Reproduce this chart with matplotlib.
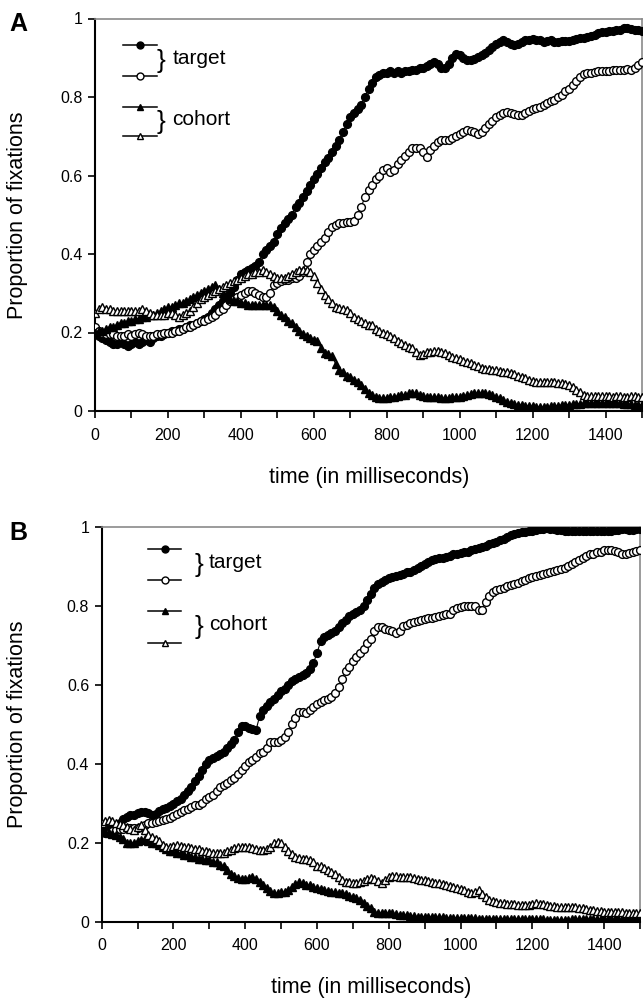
import numpy as np
import matplotlib
matplotlib.use("Agg")
import matplotlib.pyplot as plt
from matplotlib.ticker import MultipleLocator

plt.rcParams['font.family'] = ['Liberation Sans', 'DejaVu Sans']

time_ms = list(range(0, 1501, 10))

# ---------------- Panel A ----------------
A_target_filled = [
    0.20, 0.19, 0.185, 0.18, 0.175, 0.17, 0.17, 0.175, 0.17, 0.165,
    0.17, 0.175, 0.17, 0.175, 0.18, 0.175, 0.185, 0.19, 0.19, 0.195,
    0.20, 0.205, 0.205, 0.21, 0.21, 0.215, 0.22, 0.22, 0.225, 0.23,
    0.235, 0.24, 0.25, 0.26, 0.27, 0.28, 0.29, 0.30, 0.315, 0.335,
    0.35, 0.355, 0.36, 0.365, 0.37, 0.38, 0.40, 0.41, 0.42, 0.43,
    0.45, 0.465, 0.48, 0.49, 0.50, 0.52, 0.53, 0.545, 0.56, 0.575,
    0.59, 0.605, 0.62, 0.635, 0.645, 0.66, 0.675, 0.69, 0.71, 0.73,
    0.75, 0.76, 0.77, 0.78, 0.80, 0.82, 0.835, 0.85, 0.855, 0.86,
    0.86, 0.865, 0.86, 0.865, 0.86, 0.865, 0.865, 0.87, 0.87, 0.875,
    0.875, 0.88, 0.885, 0.89, 0.885, 0.875, 0.873, 0.885, 0.90, 0.91,
    0.908, 0.90, 0.893, 0.893, 0.897, 0.903, 0.908, 0.913, 0.92, 0.928,
    0.935, 0.94, 0.945, 0.94, 0.935, 0.932, 0.935, 0.94, 0.945, 0.945,
    0.947, 0.945, 0.945, 0.94, 0.942, 0.945, 0.94, 0.94, 0.942, 0.943,
    0.943, 0.945, 0.948, 0.95, 0.95, 0.952, 0.955, 0.958, 0.962, 0.966,
    0.966, 0.967, 0.968, 0.97, 0.97, 0.975, 0.975, 0.972, 0.97, 0.97, 0.968,
]
A_target_open = [
    0.215, 0.205, 0.20, 0.195, 0.195, 0.195, 0.19, 0.19, 0.19, 0.195,
    0.19, 0.195, 0.20, 0.195, 0.19, 0.19, 0.19, 0.195, 0.195, 0.20,
    0.20, 0.20, 0.205, 0.205, 0.21, 0.215, 0.215, 0.22, 0.225, 0.23,
    0.23, 0.235, 0.24, 0.245, 0.255, 0.26, 0.27, 0.28, 0.285, 0.29,
    0.295, 0.30, 0.305, 0.305, 0.30, 0.295, 0.29, 0.29, 0.30, 0.32,
    0.325, 0.33, 0.335, 0.335, 0.34, 0.34, 0.345, 0.355, 0.38, 0.40,
    0.41, 0.42, 0.43, 0.44, 0.455, 0.47, 0.475, 0.478, 0.48, 0.482,
    0.482, 0.485, 0.50, 0.52, 0.545, 0.563, 0.575, 0.59, 0.60, 0.615,
    0.618, 0.61, 0.615, 0.63, 0.64, 0.65, 0.66, 0.67, 0.67, 0.67,
    0.66, 0.648, 0.665, 0.675, 0.685, 0.69, 0.69, 0.69, 0.695, 0.70,
    0.705, 0.71, 0.716, 0.714, 0.71, 0.707, 0.712, 0.722, 0.73, 0.74,
    0.75, 0.755, 0.76, 0.763, 0.76, 0.757, 0.755, 0.755, 0.76, 0.765,
    0.77, 0.773, 0.775, 0.78, 0.785, 0.79, 0.792, 0.80, 0.805, 0.815,
    0.82, 0.83, 0.84, 0.85, 0.858, 0.86, 0.862, 0.864, 0.865, 0.865,
    0.865, 0.866, 0.868, 0.869, 0.87, 0.87, 0.872, 0.87, 0.875, 0.882, 0.89,
]
A_cohort_filled = [
    0.20, 0.205, 0.205, 0.21, 0.215, 0.215, 0.22, 0.225, 0.225, 0.23,
    0.23, 0.235, 0.235, 0.24, 0.24, 0.245, 0.245, 0.25, 0.255, 0.26,
    0.265, 0.265, 0.27, 0.275, 0.275, 0.28, 0.285, 0.29, 0.295, 0.30,
    0.305, 0.31, 0.315, 0.32, 0.31, 0.30, 0.29, 0.285, 0.28, 0.28,
    0.275, 0.275, 0.27, 0.27, 0.27, 0.27, 0.27, 0.27, 0.27, 0.265,
    0.255, 0.245, 0.24, 0.23, 0.225, 0.215, 0.205, 0.195, 0.19, 0.185,
    0.18, 0.178, 0.16, 0.147, 0.145, 0.14, 0.12, 0.105, 0.10, 0.09,
    0.087, 0.08, 0.075, 0.065, 0.055, 0.046, 0.04, 0.035, 0.033, 0.033,
    0.034, 0.035, 0.036, 0.038, 0.04, 0.042, 0.045, 0.045, 0.045, 0.042,
    0.038, 0.036, 0.035, 0.035, 0.035, 0.033, 0.033, 0.034, 0.036, 0.036,
    0.036, 0.038, 0.04, 0.043, 0.045, 0.046, 0.046, 0.045, 0.043, 0.04,
    0.036, 0.032, 0.028, 0.024, 0.021, 0.018, 0.016, 0.015, 0.014, 0.013,
    0.012, 0.011, 0.011, 0.01, 0.011, 0.012, 0.013, 0.014, 0.015, 0.015,
    0.016, 0.017, 0.018, 0.019, 0.02, 0.02, 0.02, 0.02, 0.02, 0.02,
    0.02, 0.02, 0.02, 0.02, 0.02, 0.019, 0.018, 0.017, 0.016, 0.016, 0.015,
]
A_cohort_open = [
    0.25, 0.26, 0.265, 0.26, 0.26, 0.255, 0.255, 0.255, 0.255, 0.255,
    0.255, 0.255, 0.255, 0.26, 0.255, 0.25, 0.245, 0.245, 0.245, 0.245,
    0.25, 0.25, 0.245, 0.24, 0.245, 0.25, 0.255, 0.265, 0.275, 0.285,
    0.29, 0.295, 0.30, 0.305, 0.31, 0.315, 0.32, 0.325, 0.33, 0.335,
    0.34, 0.345, 0.35, 0.35, 0.355, 0.355, 0.36, 0.355, 0.35, 0.345,
    0.34, 0.34, 0.34, 0.345, 0.35, 0.355, 0.358, 0.358, 0.358, 0.355,
    0.345, 0.325, 0.31, 0.295, 0.285, 0.275, 0.266, 0.262, 0.26, 0.257,
    0.25, 0.24, 0.235, 0.23, 0.225, 0.22, 0.22, 0.21, 0.205, 0.20,
    0.195, 0.19, 0.185, 0.178, 0.172, 0.168, 0.163, 0.16, 0.15, 0.143,
    0.145, 0.15, 0.151, 0.152, 0.152, 0.151, 0.148, 0.142, 0.137, 0.134,
    0.132, 0.128, 0.126, 0.122, 0.118, 0.114, 0.11, 0.108, 0.106, 0.104,
    0.104, 0.102, 0.10, 0.10, 0.098, 0.094, 0.09, 0.086, 0.083, 0.08,
    0.077, 0.075, 0.075, 0.075, 0.075, 0.074, 0.073, 0.072, 0.071, 0.07,
    0.066, 0.06, 0.054, 0.048, 0.042, 0.038, 0.037, 0.037, 0.037, 0.037,
    0.037, 0.037, 0.036, 0.037, 0.037, 0.036, 0.036, 0.037, 0.037, 0.036, 0.035,
]

# ---------------- Panel B ----------------
B_target_filled = [
    0.228, 0.23, 0.235, 0.24, 0.245, 0.25, 0.26, 0.265, 0.27, 0.27,
    0.275, 0.278, 0.278, 0.275, 0.27, 0.272, 0.28, 0.285, 0.288, 0.292,
    0.298, 0.305, 0.31, 0.32, 0.33, 0.34, 0.355, 0.37, 0.385, 0.40,
    0.41, 0.415, 0.42, 0.425, 0.43, 0.44, 0.45, 0.46, 0.48, 0.495,
    0.495, 0.49, 0.487, 0.485, 0.52, 0.535, 0.545, 0.555, 0.565, 0.575,
    0.585, 0.59, 0.60, 0.61, 0.615, 0.62, 0.625, 0.63, 0.64, 0.655,
    0.68, 0.71, 0.72, 0.725, 0.73, 0.735, 0.745, 0.755, 0.765, 0.775,
    0.78, 0.785, 0.79, 0.80, 0.815, 0.83, 0.845, 0.855, 0.86, 0.865,
    0.87, 0.872, 0.875, 0.878, 0.88, 0.885, 0.886, 0.89, 0.895, 0.90,
    0.905, 0.91, 0.915, 0.918, 0.92, 0.922, 0.924, 0.926, 0.93, 0.932,
    0.933, 0.935, 0.937, 0.94, 0.943, 0.946, 0.948, 0.952, 0.955, 0.958,
    0.962, 0.966, 0.97, 0.974, 0.978, 0.982, 0.984, 0.986, 0.987, 0.988,
    0.99, 0.992, 0.994, 0.995, 0.996, 0.995, 0.993, 0.992, 0.991, 0.99,
    0.99, 0.99, 0.99, 0.99, 0.99, 0.99, 0.99, 0.99, 0.99, 0.99,
    0.99, 0.99, 0.99, 0.991, 0.992, 0.993, 0.993, 0.992, 0.992, 0.993, 0.993,
]
B_target_open = [
    0.228, 0.225, 0.225, 0.23, 0.232, 0.235, 0.235, 0.236, 0.238, 0.238,
    0.236, 0.24, 0.245, 0.249, 0.25, 0.253, 0.255, 0.257, 0.26, 0.262,
    0.268, 0.273, 0.278, 0.283, 0.285, 0.29, 0.295, 0.295, 0.30, 0.31,
    0.315, 0.32, 0.33, 0.34, 0.346, 0.352, 0.358, 0.365, 0.375, 0.385,
    0.395, 0.405, 0.41, 0.418, 0.426, 0.43, 0.44, 0.455, 0.456, 0.456,
    0.46, 0.468, 0.48, 0.50, 0.515, 0.532, 0.53, 0.528, 0.535, 0.544,
    0.55, 0.555, 0.561, 0.565, 0.57, 0.58, 0.595, 0.615, 0.635, 0.645,
    0.66, 0.67, 0.68, 0.69, 0.705, 0.715, 0.735, 0.745, 0.745, 0.74,
    0.738, 0.735, 0.732, 0.735, 0.748, 0.752, 0.755, 0.758, 0.762, 0.764,
    0.766, 0.768, 0.77, 0.772, 0.774, 0.776, 0.778, 0.78, 0.79, 0.795,
    0.797, 0.80, 0.80, 0.80, 0.80, 0.79, 0.79, 0.81, 0.825, 0.835,
    0.84, 0.843, 0.846, 0.85, 0.852, 0.855, 0.858, 0.862, 0.866, 0.869,
    0.872, 0.875, 0.878, 0.88, 0.883, 0.886, 0.888, 0.89, 0.893, 0.896,
    0.90, 0.905, 0.91, 0.915, 0.92, 0.925, 0.93, 0.932, 0.935, 0.937,
    0.94, 0.94, 0.94, 0.938, 0.935, 0.932, 0.932, 0.933, 0.935, 0.938, 0.941,
]
B_cohort_filled = [
    0.232, 0.228, 0.225, 0.222, 0.22, 0.215, 0.21, 0.20, 0.198, 0.20,
    0.205, 0.208, 0.21, 0.205, 0.20, 0.198, 0.195, 0.19, 0.185, 0.18,
    0.178, 0.175, 0.173, 0.17, 0.168, 0.165, 0.163, 0.16, 0.158, 0.156,
    0.155, 0.152, 0.15, 0.144, 0.14, 0.13, 0.12, 0.115, 0.11, 0.108,
    0.108, 0.11, 0.112, 0.108, 0.10, 0.092, 0.085, 0.078, 0.072, 0.072,
    0.074, 0.076, 0.08, 0.088, 0.095, 0.10, 0.097, 0.094, 0.092, 0.089,
    0.085, 0.082, 0.08, 0.078, 0.076, 0.075, 0.073, 0.072, 0.07, 0.066,
    0.062, 0.06, 0.055, 0.048, 0.04, 0.035, 0.025, 0.022, 0.022, 0.022,
    0.022, 0.021, 0.02, 0.018, 0.017, 0.016, 0.015, 0.014, 0.013, 0.013,
    0.013, 0.012, 0.012, 0.011, 0.011, 0.011, 0.01, 0.01, 0.01, 0.01,
    0.01, 0.009, 0.009, 0.009, 0.009, 0.008, 0.008, 0.008, 0.008, 0.008,
    0.008, 0.008, 0.008, 0.008, 0.008, 0.008, 0.008, 0.008, 0.008, 0.008,
    0.007, 0.007, 0.006, 0.006, 0.005, 0.005, 0.005, 0.005, 0.005, 0.005,
    0.005, 0.006, 0.006, 0.007, 0.007, 0.007, 0.007, 0.007, 0.007, 0.006,
    0.006, 0.006, 0.006, 0.006, 0.006, 0.006, 0.006, 0.006, 0.006, 0.006, 0.006,
]
B_cohort_open = [
    0.25, 0.255, 0.257, 0.255, 0.25, 0.248, 0.245, 0.24, 0.235, 0.232,
    0.24, 0.245, 0.232, 0.22, 0.215, 0.21, 0.205, 0.195, 0.19, 0.19,
    0.192, 0.194, 0.192, 0.19, 0.188, 0.186, 0.185, 0.183, 0.18, 0.178,
    0.177, 0.175, 0.174, 0.173, 0.175, 0.178, 0.182, 0.186, 0.188, 0.19,
    0.19, 0.188, 0.186, 0.184, 0.182, 0.181, 0.184, 0.19, 0.20, 0.203,
    0.198, 0.19, 0.18, 0.172, 0.165, 0.162, 0.16, 0.158, 0.156, 0.15,
    0.142, 0.14, 0.135, 0.131, 0.125, 0.12, 0.112, 0.105, 0.101, 0.10,
    0.097, 0.097, 0.10, 0.104, 0.108, 0.11, 0.107, 0.102, 0.097, 0.105,
    0.114, 0.115, 0.115, 0.114, 0.113, 0.114, 0.112, 0.11, 0.108, 0.106,
    0.105, 0.103, 0.101, 0.099, 0.097, 0.095, 0.093, 0.091, 0.089, 0.086,
    0.083, 0.079, 0.075, 0.072, 0.075, 0.08, 0.07, 0.062, 0.055, 0.052,
    0.05, 0.048, 0.047, 0.046, 0.045, 0.044, 0.043, 0.042, 0.042, 0.043,
    0.045, 0.047, 0.046, 0.044, 0.042, 0.04, 0.039, 0.038, 0.038, 0.038,
    0.038, 0.037, 0.036, 0.035, 0.034, 0.032, 0.03, 0.03, 0.028, 0.026,
    0.025, 0.025, 0.025, 0.025, 0.024, 0.024, 0.023, 0.023, 0.022, 0.022, 0.021,
]

x_ticks = [0, 200, 400, 600, 800, 1000, 1200, 1400]
y_ticks = [0, 0.2, 0.4, 0.6, 0.8, 1.0]
y_ticklabels = ["0", "0.2", "0.4", "0.6", "0.8", "1"]

W, H = 644, 998
fig = plt.figure(figsize=(W / 100, H / 100), dpi=100)


def px_axes(l, t, r, b):
    return fig.add_axes([l / W, 1 - b / H, (r - l) / W, (b - t) / H])


axA = px_axes(95, 18.5, 642, 411)
axB = px_axes(101.7, 526.7, 640, 921.7)

MS = 5.6
styles = [
    dict(marker='o', mfc='black', mec='black'),
    dict(marker='o', mfc='white', mec='black'),
    dict(marker='^', mfc='black', mec='black'),
    dict(marker='^', mfc='white', mec='black'),
]


def draw_panel(ax, series, legend_cfg):
    for ys, st in zip(series, styles):
        ax.plot(time_ms, ys, color='black', lw=0.8, markersize=MS,
                markeredgewidth=1.0, zorder=3, **st)
    ax.set_xlim(0, 1500)
    ax.set_ylim(0, 1)
    ax.set_xticks(x_ticks)
    ax.xaxis.set_minor_locator(MultipleLocator(100))
    ax.set_yticks(y_ticks)
    ax.set_yticklabels(y_ticklabels)
    ax.tick_params(axis='both', which='both', direction='out', length=5,
                   width=1.2, labelsize=11.5, pad=4, color='black')
    ax.tick_params(axis='x', which='major', pad=7)
    for s in ['left', 'bottom']:
        ax.spines[s].set_linewidth(1.5)
        ax.spines[s].set_color('black')
    for s in ['top', 'right']:
        ax.spines[s].set_linewidth(1.2)
        ax.spines[s].set_color('#8a8a8a')
    # legend
    x0, x1, xm, ys_leg, xbrace, xtext, brace_fs = legend_cfg
    for yv, st in zip(ys_leg, styles):
        ax.plot([x0, x1], [yv, yv], color='black', lw=1.1, clip_on=False,
                zorder=4)
        ax.plot([xm], [yv], markersize=5.0, markeredgewidth=1.0,
                color='black', clip_on=False, zorder=5, **st)
    for label, (ya, yb) in zip(["target", "cohort"],
                               [(ys_leg[0], ys_leg[1]), (ys_leg[2], ys_leg[3])]):
        yc = (ya + yb) / 2
        ax.text(xbrace, yc, "}", fontsize=brace_fs, ha='center', va='center',
                zorder=5)
        ax.text(xtext, yc + 0.005, label, fontsize=15, ha='left',
                va='center', zorder=5)


draw_panel(axA, [A_target_filled, A_target_open, A_cohort_filled, A_cohort_open],
           (77, 170, 123, [0.932, 0.853, 0.775, 0.700], 180, 212, 19))
draw_panel(axB, [B_target_filled, B_target_open, B_cohort_filled, B_cohort_open],
           (129, 221, 175, [0.9435, 0.865, 0.787, 0.706], 271, 298, 19))

# axis labels and panel letters
for yc in [215, 724]:
    fig.text(18 / W, 1 - yc / H, "Proportion of fixations", rotation=90,
             fontsize=15.5, ha='center', va='center')
fig.text(369 / W, 1 - 477 / H, "time (in milliseconds)", fontsize=15.5,
         ha='center', va='center')
fig.text(371 / W, 1 - 987 / H, "time (in milliseconds)", fontsize=15.5,
         ha='center', va='center')
fig.text(18 / W, 1 - 24 / H, "A", fontsize=18, fontweight='bold',
         ha='center', va='center')
fig.text(18 / W, 1 - 533 / H, "B", fontsize=18, fontweight='bold',
         ha='center', va='center')

fig.savefig("out.png", dpi=100)
